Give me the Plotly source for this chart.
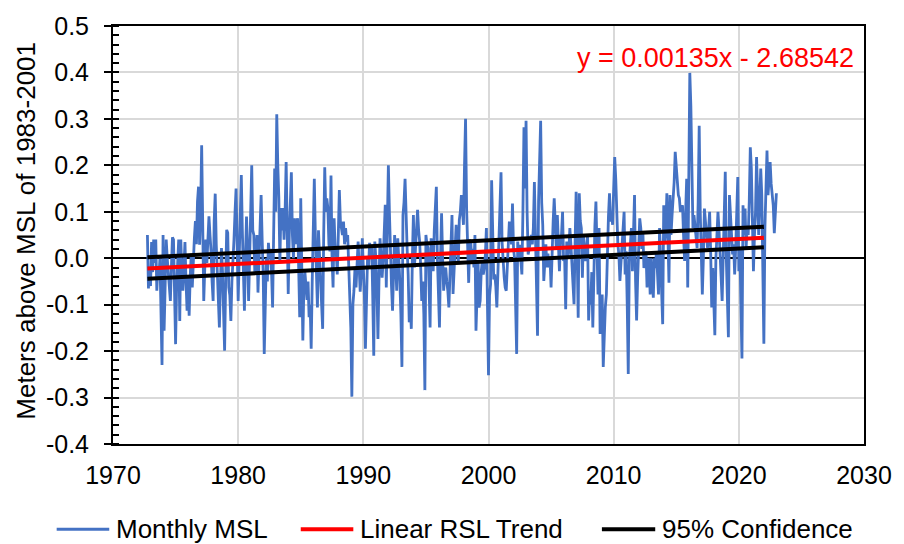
import plotly.graph_objects as go

# Monthly mean sea level (m above the 1983-2001 MSL), Oct 1972 - Jan 2023
first_month = 1972.75  # October 1972, decimal year
msl_1970s = [
    0.05, -0.065, -0.02,
    -0.06, 0.035, -0.03, 0.04, -0.01, 0.04, -0.07, -0.02, -0.04, 0.0, -0.1, -0.23,
    0.05, -0.156, -0.06, 0.04, 0.0, -0.03, -0.05, -0.092, -0.02, 0.045, 0.04, -0.05,
    -0.185, -0.06, 0.0, 0.04, -0.135, 0.04, -0.03, -0.07, -0.02, 0.035, -0.05, -0.113,
    -0.04, -0.124, -0.04, 0.01, -0.063, 0.02, 0.043, 0.08, 0.03, 0.122, 0.154, 0.029,
    0.1, 0.243, 0.05, -0.092, -0.02, 0.04, -0.01, 0.06, 0.09, 0.05, 0.015, -0.05,
    -0.092, 0.08, 0.139, 0.03, -0.042, -0.1, -0.149, -0.05, 0.022, -0.03, -0.12, -0.199,
    -0.05, 0.061, 0.055, -0.063, -0.08, -0.135, -0.05, 0.02, 0.04, 0.1, 0.15, 0.03,
]
msl_1980s = [
    -0.092, 0.0, 0.1, 0.179, 0.06, -0.05, -0.113, 0.0, 0.09, 0.02, -0.092, 0.0,
    0.12, 0.2, 0.06, 0.05, -0.035, 0.03, 0.05, -0.074, -0.01, 0.05, 0.136, 0.04,
    -0.035, -0.206, -0.08, 0.0, -0.05, 0.033, 0.0, 0.02, -0.03, -0.106, 0.05, 0.193,
    0.1, 0.31, 0.2, 0.129, -0.01, 0.108, 0.06, 0.108, 0.04, 0.1, 0.207, 0.02,
    -0.077, 0.05, 0.12, 0.185, 0.05, 0.0, 0.086, 0.03, 0.07, 0.086, -0.02, -0.127,
    0.129, 0.0, -0.177, -0.06, -0.03, -0.06, -0.09, -0.05, -0.127, -0.1, -0.195, -0.05,
    0.06, 0.171, 0.05, -0.03, -0.106, 0.06, 0.0, -0.063, -0.1, -0.152, 0.05, 0.196,
    0.1, 0.129, 0.108, 0.03, 0.015, 0.178, 0.0, -0.063, 0.086, 0.02, 0.015, -0.035,
    0.05, 0.147, 0.08, 0.065, 0.05, 0.079, 0.03, 0.065, 0.036, 0.05, -0.02, -0.063,
    -0.15, -0.298, -0.1, -0.07, -0.02, -0.063, -0.02, 0.036, -0.02, -0.072, -0.03, 0.043,
]
msl_1990s = [
    -0.02, -0.08, -0.195, -0.056, 0.0, -0.02, 0.033, 0.02, 0.029, -0.08, -0.21, 0.036,
    0.0, -0.063, -0.174, -0.05, 0.043, 0.0, -0.042, -0.006, 0.05, 0.115, -0.063, 0.086,
    0.2, 0.1, -0.006, -0.06, -0.113, -0.02, 0.05, -0.01, -0.07, 0.043, 0.0, -0.049,
    -0.12, -0.234, 0.093, 0.12, 0.171, 0.065, 0.02, -0.035, -0.138, -0.1, -0.152, 0.0,
    0.093, -0.02, 0.02, 0.043, 0.104, 0.06, 0.036, -0.02, -0.092, -0.05, -0.12, -0.284,
    0.05, 0.03, 0.022, -0.06, -0.149, 0.043, 0.0, -0.028, 0.06, 0.125, 0.154, 0.0,
    -0.092, -0.149, 0.0, 0.097, 0.0, -0.07, -0.04, -0.02, -0.05, -0.07, -0.106, -0.02,
    0.05, 0.093, -0.077, -0.02, 0.015, 0.072, 0.03, -0.013, 0.082, 0.1, 0.136, 0.09,
    0.072, 0.2, 0.3, 0.108, 0.0, -0.053, 0.04, 0.036, -0.006, 0.02, -0.02, 0.05,
    -0.156, -0.05, -0.006, -0.106, -0.092, -0.03, -0.006, -0.035, -0.02, 0.008, 0.065, -0.1,
]
msl_2000s = [
    -0.252, -0.08, -0.056, 0.168, 0.05, -0.046, -0.035, -0.06, -0.106, -0.02, 0.05, 0.1,
    0.185, 0.036, -0.02, -0.04, -0.063, -0.07, -0.02, 0.05, 0.079, 0.065, 0.03, 0.118,
    0.02, 0.0, -0.1, -0.206, 0.036, 0.0, 0.029, -0.01, -0.035, 0.1, 0.282, 0.15,
    0.296, 0.1, 0.008, 0.02, 0.036, 0.05, 0.03, 0.065, 0.164, 0.036, -0.08, -0.167,
    0.122, 0.2, 0.296, 0.12, 0.072, -0.049, 0.0, 0.03, -0.02, 0.01, -0.02, 0.0,
    -0.063, 0.03, 0.08, 0.129, 0.05, 0.02, 0.093, 0.0, -0.028, 0.036, 0.05, 0.1,
    -0.006, 0.0, -0.11, 0.036, 0.0, 0.015, 0.065, 0.03, -0.006, -0.05, -0.099, 0.03,
    0.143, 0.015, -0.128, 0.14, 0.08, 0.065, -0.042, 0.05, 0.02, -0.006, 0.02, 0.05,
    -0.134, -0.07, -0.1, -0.03, -0.149, 0.022, 0.07, 0.122, 0.0, -0.078, 0.065, -0.163,
    -0.12, -0.078, -0.234, -0.15, -0.106, -0.078, 0.05, 0.09, 0.14, 0.079, 0.1, 0.072,
]
msl_2010s = [
    0.15, 0.218, 0.171, 0.065, 0.03, 0.008, -0.049, -0.01, 0.022, 0.06, 0.1, -0.035,
    0.015, -0.1, -0.249, -0.006, 0.03, 0.065, -0.028, 0.05, 0.136, -0.05, -0.134, -0.042,
    0.03, 0.086, 0.065, 0.02, 0.058, -0.021, 0.0, 0.015, -0.063, 0.0, -0.006, -0.078,
    0.0, -0.04, -0.085, 0.0, -0.021, 0.015, -0.03, -0.078, 0.065, -0.021, -0.08, -0.142,
    0.114, 0.036, 0.06, 0.14, 0.05, -0.053, 0.136, 0.05, 0.093, 0.12, 0.164, 0.229,
    0.2, 0.179, 0.136, 0.129, 0.1, 0.107, 0.114, 0.05, -0.006, 0.1, 0.171, -0.063,
    0.2, 0.399, 0.328, 0.15, 0.065, 0.093, 0.07, 0.05, 0.022, 0.12, 0.285, 0.1,
    0.022, -0.078, 0.0, 0.107, 0.079, 0.05, 0.022, 0.06, 0.1, 0.015, -0.106, -0.021,
    -0.08, -0.166, 0.0, 0.05, 0.1, 0.06, 0.022, -0.04, -0.092, 0.022, 0.12, 0.186,
    0.0, -0.08, -0.17, 0.136, 0.09, 0.058, 0.008, 0.03, -0.035, 0.022, 0.1, 0.175,
]
msl_2020s = [
    -0.028, 0.022, -0.1, -0.216, 0.114, 0.05, 0.107, 0.022, 0.07, 0.05, 0.122, 0.239,
    0.193, 0.08, -0.028, 0.05, 0.1, 0.218, 0.12, 0.05, 0.12, 0.193, 0.136, 0.0,
    -0.184, 0.065, 0.15, 0.232, 0.136, 0.17, 0.207, 0.16, 0.136, 0.114, 0.054, 0.1,
    0.14,
]

# Linear relative sea-level trend and its 95% confidence bounds
trend_slope = 0.00135
trend_intercept = -2.68542
trend_years = [1972.75, 2022.0]
conf_upper = [0.002, 0.068]
conf_lower = [-0.044, 0.0235]

# Axis ticks
x_ticks = [1970, 1980, 1990, 2000, 2010, 2020, 2030]
y_ticks = [-0.4, -0.3, -0.2, -0.1, 0.0, 0.1, 0.2, 0.3, 0.4, 0.5]
y_tick_labels = ["-0.4", "-0.3", "-0.2", "-0.1", "0.0", "0.1", "0.2", "0.3", "0.4", "0.5"]

BLUE = "#4472C4"
RED = "#FF0000"
BLACK = "#000000"
GRID = "#D9D9D9"
FONT = "Liberation Sans, Arial, sans-serif"

msl = msl_1970s + msl_1980s + msl_1990s + msl_2000s + msl_2010s + msl_2020s
msl_years = [first_month + i / 12 for i in range(len(msl))]
trend_values = [trend_slope * yr + trend_intercept for yr in trend_years]

fig = go.Figure()
fig.add_trace(go.Scatter(x=msl_years, y=msl, mode="lines", name="Monthly MSL",
                         line=dict(color=BLUE, width=2.8), showlegend=False))
fig.add_trace(go.Scatter(x=trend_years, y=trend_values, mode="lines", name="Linear RSL Trend",
                         line=dict(color=RED, width=4), showlegend=False))
fig.add_trace(go.Scatter(x=trend_years, y=conf_upper, mode="lines", name="95% Confidence",
                         line=dict(color=BLACK, width=4), showlegend=False))
fig.add_trace(go.Scatter(x=trend_years, y=conf_lower, mode="lines", name="95% Confidence",
                         line=dict(color=BLACK, width=4), showlegend=False))

# Legend row below the plot: sample line + label for each series
legend_items = [
    ("Monthly MSL", BLUE, 2.8, -0.075, -0.005),
    ("Linear RSL Trend", RED, 4, 0.250, 0.320),
    ("95% Confidence", BLACK, 4, 0.651, 0.722),
]
legend_y = -0.204
for label, color, width, x0, x1 in legend_items:
    fig.add_shape(type="line", xref="paper", yref="paper", x0=x0, x1=x1,
                  y0=legend_y, y1=legend_y, line=dict(color=color, width=width))
    fig.add_annotation(xref="paper", yref="paper", x=x1 + 0.006, y=legend_y,
                       text=label, showarrow=False, xanchor="left", yanchor="middle",
                       font=dict(family=FONT, size=26, color=BLACK))

# Regression equation
fig.add_annotation(x=2018.1, y=0.432, xref="x", yref="y",
                   text=f"y = {trend_slope:.5f}x - {abs(trend_intercept):.5f}",
                   showarrow=False, xanchor="center", yanchor="middle",
                   font=dict(family=FONT, size=27, color=RED))

# Y-axis title
fig.add_annotation(xref="paper", yref="paper", x=-0.116, y=0.51,
                   text="Meters above MSL of 1983-2001", textangle=-90,
                   showarrow=False, xanchor="center", yanchor="middle",
                   font=dict(family=FONT, size=26, color=BLACK))

fig.update_layout(
    width=904, height=544,
    margin=dict(l=113, r=31, t=23, b=100),
    paper_bgcolor="white", plot_bgcolor="white",
    font=dict(family=FONT, size=25, color=BLACK),
    showlegend=False,
)
fig.update_xaxes(
    range=[1970, 2030], tickvals=x_ticks, ticktext=[str(t) for t in x_ticks],
    showgrid=True, gridcolor=GRID, gridwidth=1.5,
    showline=True, linecolor=BLACK, linewidth=2, mirror=True,
    ticks="", ticklabelstandoff=8, zeroline=False,
    tickfont=dict(family=FONT, size=25, color=BLACK),
)
fig.update_yaxes(
    range=[-0.4, 0.5], tickvals=y_ticks, ticktext=y_tick_labels,
    showgrid=True, gridcolor=GRID, gridwidth=1.5,
    showline=True, linecolor=BLACK, linewidth=2, mirror=True,
    ticks="outside", ticklen=7, tickwidth=2, tickcolor=BLACK, ticklabelstandoff=10,
    minor=dict(ticks="inside", dtick=0.02, ticklen=6, tickwidth=1.5, tickcolor=BLACK, showgrid=False),
    zeroline=True, zerolinecolor=BLACK, zerolinewidth=1.5,
    tickfont=dict(family=FONT, size=25, color=BLACK),
)

fig.write_html("out.html")
